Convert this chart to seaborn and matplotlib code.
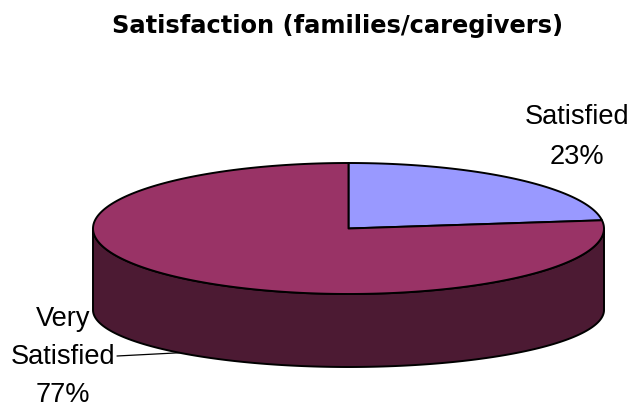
import numpy as np
import matplotlib
matplotlib.use("Agg")
import matplotlib.pyplot as plt
from matplotlib.patches import Polygon
import seaborn as sns

# Survey shares
labels = ["Satisfied", "Very Satisfied"]
shares = [23, 77]
top_colors = ["#9999FF", "#993366"]
side_colors = ["#4B1C3F", "#4C1A33"]

title = "Satisfaction (families/caregivers)"

sns.set_theme(style="white")
plt.rcParams["font.family"] = ["Liberation Sans", "DejaVu Sans"]

W, H = 633, 409
fig = plt.figure(figsize=(W / 100, H / 100), dpi=100)
ax = fig.add_axes([0, 0, 1, 1])
ax.set_xlim(0, W)
ax.set_ylim(H, 0)
ax.axis("off")

# disc geometry (pixel-like units, y pointing down); the base ellipse is
# flatter than the top one to give a slight perspective
cx, a = 348.5, 255.5
cy_top, b_top = 228.5, 65.5
cy_bot, b_bot = 310.0, 57.0


def arc(t0, t1, cy, b, n=240):
    ts = np.radians(np.linspace(t0, t1, n))
    return np.column_stack([cx + a * np.cos(ts), cy - b * np.sin(ts)])


# slice boundaries: start at 12 o'clock, run clockwise
bounds = [90.0]
for s in shares:
    bounds.append(bounds[-1] - 360.0 * s / sum(shares))

edge_kw = dict(edgecolor="black", linewidth=1.4, joinstyle="round")

# front wall (visible lower half of the disc, -180..0 deg)
for i in range(len(shares)):
    hi, lo = bounds[i], bounds[i + 1]
    s0, s1 = max(lo, -180.0), min(hi, 0.0)
    if s1 > s0:
        top = arc(s0, s1, cy_top, b_top)
        bot = arc(s1, s0, cy_bot, b_bot)
        ax.add_patch(Polygon(np.vstack([top, bot]), closed=True,
                             facecolor=side_colors[i], **edge_kw))

# top face wedges
for i in range(len(shares)):
    hi, lo = bounds[i], bounds[i + 1]
    pts = np.vstack([[cx, cy_top], arc(hi, lo, cy_top, b_top)])
    ax.add_patch(Polygon(pts, closed=True, facecolor=top_colors[i], **edge_kw))

# labels
fs = 19.6
ax.text(577, 137, f"{labels[0]}\n{shares[0]}%", ha="center", va="center",
        fontsize=fs, color="black", linespacing=1.67)
first, second = labels[1].split(" ")
ax.text(63, 357, f"{first}\n{second}\n{shares[1]}%",
        ha="center", va="center", fontsize=fs, color="black", linespacing=1.59)

# leader line for the large slice, to the middle of its front wall
mid = (bounds[1] + bounds[2]) / 2.0
t = np.radians(mid)
lx, ly = cx + a * np.cos(t), cy_bot - b_bot * np.sin(t)
ax.plot([117, lx], [356, ly], color="black", linewidth=0.9)

ax.text(337.5, 33, title, ha="center", va="baseline",
        fontsize=17.4, fontweight="bold", color="black",
        family=["DejaVu Sans"])

fig.savefig("out.png", dpi=100)
